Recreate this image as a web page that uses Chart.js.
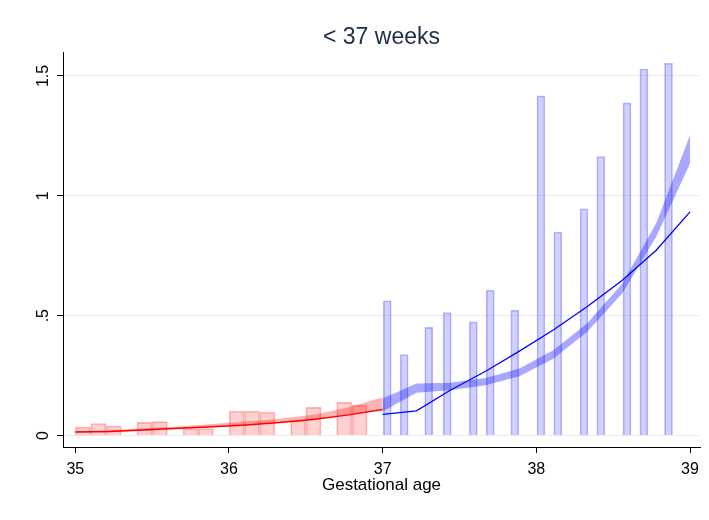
<!DOCTYPE html>
<html>
<head>
<meta charset="utf-8">
<script src="https://cdn.jsdelivr.net/npm/chart.js@4"></script>
<style>
  body { margin: 0; background: #fff; }
</style>
</head>
<body>
<canvas id="grafico" width="709" height="520"></canvas>
<script>
// barras (histograma) antes e depois de 37 semanas
const redBarX = [35.05, 35.15, 35.25, 35.45, 35.55, 35.75, 35.85, 36.05, 36.15, 36.25, 36.45, 36.55, 36.75, 36.85];
const redBarY = [0.036, 0.05, 0.039, 0.055, 0.058, 0.029, 0.029, 0.101, 0.101, 0.097, 0.061, 0.117, 0.138, 0.127];
const blueBarX = [37.03, 37.14, 37.3, 37.42, 37.59, 37.7, 37.86, 38.03, 38.14, 38.31, 38.42, 38.59, 38.7, 38.86];
const blueBarY = [0.562, 0.338, 0.451, 0.513, 0.474, 0.606, 0.523, 1.417, 0.849, 0.946, 1.164, 1.388, 1.529, 1.553];

// curvas ajustadas
const redFitX = [35, 35.22, 35.44, 35.67, 35.89, 36.11, 36.33, 36.56, 36.78, 37];
const redFitY = [0.015, 0.017, 0.023, 0.03, 0.036, 0.044, 0.054, 0.068, 0.086, 0.108];
const redBandLow = [0.013, 0.014, 0.02, 0.027, 0.034, 0.042, 0.053, 0.066, 0.086, 0.108];
const redBandHigh = [0.018, 0.022, 0.03, 0.038, 0.048, 0.058, 0.07, 0.088, 0.118, 0.16];

const blueFitX = [37, 37.22, 37.44, 37.67, 37.89, 38.11, 38.33, 38.56, 38.78, 39];
const blueFitY = [0.088, 0.103, 0.189, 0.268, 0.352, 0.44, 0.537, 0.648, 0.773, 0.933];
const blueBandLow = [0.1, 0.178, 0.189, 0.21, 0.247, 0.32, 0.432, 0.593, 0.829, 1.135];
const blueBandHigh = [0.154, 0.217, 0.22, 0.24, 0.28, 0.356, 0.467, 0.634, 0.885, 1.253];

const xTicks = [35, 36, 37, 38, 39];
const yTicks = [0, 0.5, 1, 1.5];
const yTickLabels = ["0", ".5", "1", "1.5"];

const titulo = "< 37 weeks";
const tituloX = "Gestational age";
const fonte = "'Liberation Sans', Arial, sans-serif";

const pontos = (xs, ys) => xs.map((x, i) => ({ x: x, y: ys[i] }));

// título e rótulos do eixo y (girados, como no Stata)
const textosExtras = {
    id: 'textosExtras',
    afterDraw(chart) {
        const ctx = chart.ctx;
        const area = chart.chartArea;
        const escalaY = chart.scales.y;
        ctx.save();
        ctx.fillStyle = '#1c2b4b';
        ctx.font = "23px " + fonte;
        ctx.textAlign = 'center';
        ctx.textBaseline = 'alphabetic';
        ctx.fillText(titulo, (area.left + area.right) / 2, 44);

        ctx.fillStyle = '#000';
        ctx.font = "16px " + fonte;
        yTicks.forEach((v, i) => {
            const py = escalaY.getPixelForValue(v);
            ctx.save();
            ctx.translate(48, py);
            ctx.rotate(-Math.PI / 2);
            ctx.fillText(yTickLabels[i], 0, 0);
            ctx.restore();
        });
        ctx.restore();
    }
};

const ctx = document.getElementById("grafico").getContext("2d");
new Chart(ctx, {
    type: "bar",
    data: {
        datasets: [
            {
                type: "line", label: "fit <37", data: pontos(redFitX, redFitY),
                borderColor: "#ff0000", borderWidth: 1.5, pointRadius: 0, fill: false, order: 1
            },
            {
                type: "line", label: "fit 37+", data: pontos(blueFitX, blueFitY),
                borderColor: "#0000ff", borderWidth: 1.3, pointRadius: 0, fill: false, order: 1
            },
            {
                type: "line", label: "red low", data: pontos(redFitX, redBandLow),
                borderWidth: 0, pointRadius: 0, fill: false, order: 2
            },
            {
                type: "line", label: "red high", data: pontos(redFitX, redBandHigh),
                borderWidth: 0, pointRadius: 0, fill: "-1",
                backgroundColor: "rgba(255, 0, 0, 0.3)", order: 2
            },
            {
                type: "line", label: "blue low", data: pontos(blueFitX, blueBandLow),
                borderWidth: 0, pointRadius: 0, fill: false, order: 2
            },
            {
                type: "line", label: "blue high", data: pontos(blueFitX, blueBandHigh),
                borderWidth: 0, pointRadius: 0, fill: "-1",
                backgroundColor: "rgba(0, 0, 255, 0.34)", order: 2
            },
            {
                label: "hist <37", data: pontos(redBarX, redBarY),
                backgroundColor: "rgba(255, 0, 0, 0.18)", borderColor: "rgba(255, 80, 80, 0.4)",
                borderWidth: 1, barThickness: 15, grouped: false, order: 3
            },
            {
                label: "hist 37+", data: pontos(blueBarX, blueBarY),
                backgroundColor: "rgba(0, 0, 255, 0.18)", borderColor: "rgba(80, 80, 255, 0.4)",
                borderWidth: 1, barThickness: 8, grouped: false, order: 3
            }
        ]
    },
    plugins: [textosExtras],
    options: {
        responsive: false,
        animation: false,
        layout: { padding: { top: 52, right: 9, left: 0, bottom: 0 } },
        plugins: {
            legend: { display: false },
            tooltip: { enabled: false }
        },
        scales: {
            x: {
                type: "linear",
                offset: false,
                min: 34.92,
                max: 39.065,
                afterBuildTicks: escala => { escala.ticks = xTicks.map(v => ({ value: v })); },
                afterFit: escala => { escala.height = 73; },
                ticks: {
                    color: "#000",
                    font: { family: fonte, size: 16 },
                    padding: 7,
                    maxRotation: 0,
                    callback: v => String(v)
                },
                grid: { offset: false, drawOnChartArea: false, drawTicks: true, tickLength: 6, tickColor: "#000" },
                border: { display: true, color: "#000", width: 1 },
                title: {
                    display: true,
                    text: tituloX,
                    color: "#000",
                    font: { family: fonte, size: 17 },
                    padding: { top: 0, bottom: 24 }
                }
            },
            y: {
                min: -0.048,
                max: 1.6,
                afterBuildTicks: escala => { escala.ticks = yTicks.map(v => ({ value: v })); },
                afterFit: escala => { escala.width = 63; },
                ticks: { display: false },
                grid: { color: "#e6eef0", lineWidth: 1, tickLength: 6, tickColor: "#000" },
                border: { display: true, color: "#000", width: 1 }
            }
        }
    }
});
</script>
</body>
</html>
